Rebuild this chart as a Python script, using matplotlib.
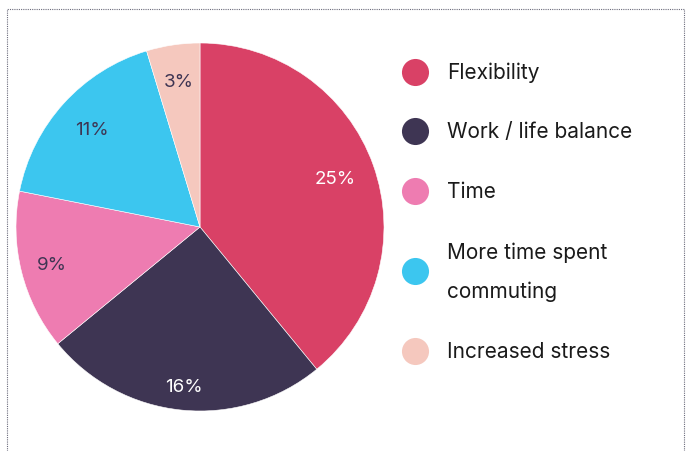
import matplotlib
matplotlib.use("Agg")
import numpy as np
import matplotlib.pyplot as plt
from matplotlib.lines import Line2D

plt.rcParams['font.family'] = ['Inter', 'DejaVu Sans']

categories = ["Flexibility", "Work / life balance", "Time",
              "More time spent\ncommuting", "Increased stress"]
values = [25, 16, 9, 11, 3]
colors = ["#D94166", "#3E3553", "#EE7CB1", "#3CC6EF", "#F5C8BE"]
label_colors = ["white", "white", "#3E3553", "#3E3553", "#3E3553"]
label_dist = [0.78, 0.87, 0.83, 0.79, 0.80]

W, H = 690, 452
fig = plt.figure(figsize=(W / 100, H / 100), dpi=100)

# pie axes: centre (200, 228) px, radius 184 px
cx, cy, r = 200, 228, 184
ax = fig.add_axes([(cx - r) / W, (H - cy - r) / H, 2 * r / W, 2 * r / H])
wedges, texts, autotexts = ax.pie(
    values, colors=colors, startangle=90, counterclock=False,
    autopct=lambda p: f"{p * sum(values) / 100:.0f}%",
    pctdistance=0.8, radius=1.0,
    wedgeprops=dict(linewidth=0.4, edgecolor="white"),
    textprops=dict(fontsize=13.5))
for w, t, c, d in zip(wedges, autotexts, label_colors, label_dist):
    t.set_color(c)
    ang = np.deg2rad((w.theta1 + w.theta2) / 2)
    t.set_position((d * np.cos(ang), d * np.sin(ang)))
ax.set_xlim(-1, 1)
ax.set_ylim(-1, 1)
ax.set_aspect("equal")
ax.axis("off")

# legend drawn in figure pixel coordinates
lax = fig.add_axes([0, 0, 1, 1])
lax.set_xlim(0, W)
lax.set_ylim(H, 0)
lax.axis("off")
legend_y = [73, 132, 192, 272, 352]
for name, col, y in zip(categories, colors, legend_y):
    lax.plot(415, y, "o", markersize=19.5, color=col, markeredgewidth=0)
    lax.text(447, y, name, fontsize=15, color="#1a1a1a", va="center",
             ha="left", linespacing=2.15)

# dotted frame
frame = dict(color="#6b6b7b", linestyle=(0, (1, 1)), linewidth=0.8)
lax.add_line(Line2D([7, 7, 684, 684], [H, 10, 10, H], **frame))

fig.savefig("out.png", dpi=100)
